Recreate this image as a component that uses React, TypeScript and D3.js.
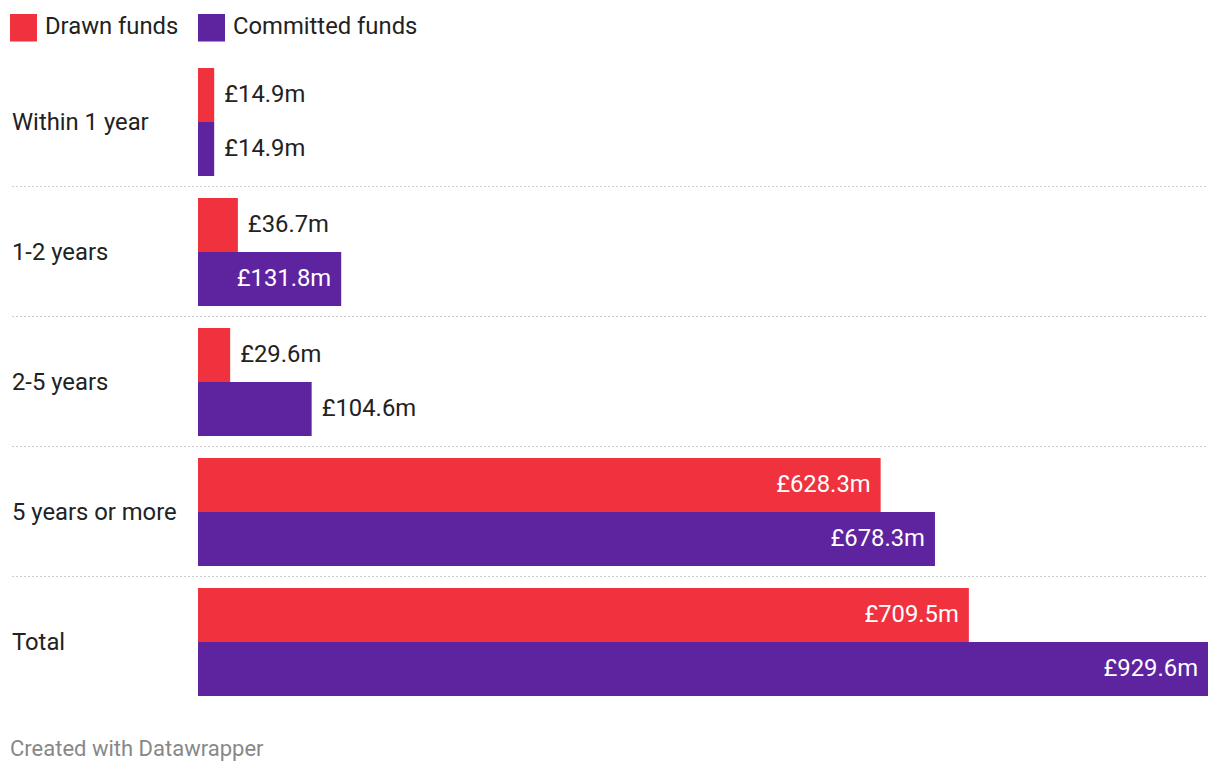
import React from "react";
import * as d3 from "d3";

const categories = ["Within 1 year", "1-2 years", "2-5 years", "5 years or more", "Total"];
const seriesNames = ["Drawn funds", "Committed funds"];
const drawn = [14.9, 36.7, 29.6, 628.3, 709.5];
const committed = [14.9, 131.8, 104.6, 678.3, 929.6];
const colors = ["#f0323f", "#5e249f"];

const W = 1220;
const H = 774;

export default function App() {
  const x = d3.scaleLinear().domain([0, d3.max(committed)!]).range([198, 1208]);
  const y = d3.scaleBand().domain(categories).range([68, 718]).paddingInner(0).paddingOuter(0);
  const barH = 54;
  const font = "Roboto, sans-serif";
  const fmt = (v: number) => `£${v.toFixed(1)}m`;
  const series = [drawn, committed];

  return (
    <svg width={W} height={H} style={{ position: "absolute", left: 0, top: 0 }} fontFamily={font}>
      <rect width={W} height={H} fill="#fff" />
      {seriesNames.map((s, i) => {
        const lx = i === 0 ? 10 : 198;
        return (
          <g key={s}>
            <rect x={lx} y={14} width={27} height={27.5} fill={colors[i]} />
            <text x={lx + 35} y={33.5} fontSize={23.8} fill="#222">{s}</text>
          </g>
        );
      })}
      {categories.slice(1).map((c) => (
        <line key={c} x1={12} x2={1208} y1={y(c)! - 11.5} y2={y(c)! - 11.5}
          stroke="#ccc" strokeWidth={1.2} strokeDasharray="2,2" />
      ))}
      {categories.map((c, ci) => (
        <g key={c}>
          <text x={12} y={y(c)! + barH + 8} fontSize={23.8} fill="#222">{c}</text>
          {series.map((arr, si) => {
            const v = arr[ci];
            const by = y(c)! + si * barH;
            const bw = x(v) - x(0);
            const inside = bw > 130;
            return (
              <g key={si}>
                <rect x={x(0)} y={by} width={bw} height={barH} fill={colors[si]} />
                <text
                  x={inside ? x(v) - 10 : x(v) + 10}
                  y={by + barH / 2 + 7.3}
                  fontSize={23.8}
                  textAnchor={inside ? "end" : "start"}
                  fill={inside ? "#fff" : "#222"}
                >
                  {fmt(v)}
                </text>
              </g>
            );
          })}
        </g>
      ))}
      <text x={10} y={756} fontSize={22} fill="#888">Created with Datawrapper</text>
    </svg>
  );
}
